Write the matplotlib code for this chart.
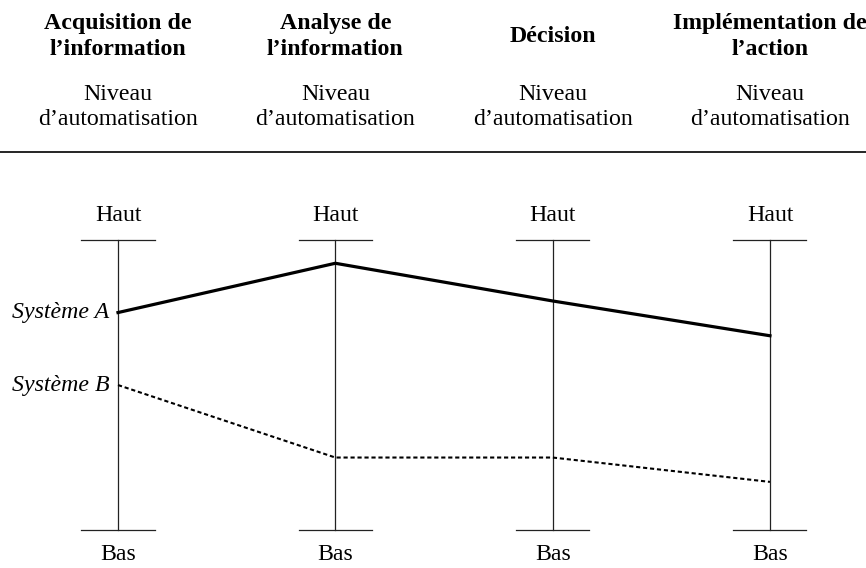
import matplotlib
matplotlib.use("Agg")
import matplotlib.pyplot as plt

# stages (columns) of the automation model
stages = ["Acquisition de\nl\u2019information", "Analyse de\nl\u2019information",
          "D\u00e9cision", "Impl\u00e9mentation de\nl\u2019action"]
sub_label = "Niveau\nd\u2019automatisation"
top_label = "Haut"
bottom_label = "Bas"

# automation level per stage, 0 = Bas, 1 = Haut
systeme_a = [0.75, 0.92, 0.79, 0.67]
systeme_b = [0.50, 0.25, 0.25, 0.166]
series_names = ["Syst\u00e8me A", "Syst\u00e8me B"]

plt.rcParams["font.family"] = ["Liberation Serif", "DejaVu Serif"]
fs = 17.2

fig = plt.figure(figsize=(8.66, 5.68), dpi=100)
ax = fig.add_axes([0, 0, 1, 1])
ax.set_xlim(-0.543, 3.442)
ax.set_ylim(-0.131, 1.828)
ax.axis("off")

xs = list(range(len(stages)))
cap = 0.168

for x, name in zip(xs, stages):
    # vertical scale with caps
    ax.plot([x, x], [0, 1], color="#222222", lw=0.9, zorder=1)
    ax.plot([x - cap, x + cap], [1, 1], color="#222222", lw=0.9)
    ax.plot([x - cap, x + cap], [0, 0], color="#222222", lw=0.9)
    ax.text(x, 1.086, top_label, ha="center", va="center", fontsize=fs)
    ax.text(x, -0.083, bottom_label, ha="center", va="center", fontsize=fs)
    # column headers
    ax.text(x, 1.703, name, ha="center", va="center", fontsize=fs,
            fontweight="bold", linespacing=1.3)
    ax.text(x, 1.459, sub_label, ha="center", va="center", fontsize=fs,
            linespacing=1.3)

# separator under the header
ax.plot([-0.543, 3.442], [1.303, 1.303], color="black", lw=1.2, clip_on=False)

ax.plot(xs, systeme_a, color="black", lw=2.3, solid_joinstyle="miter", zorder=3)
ax.plot(xs, systeme_b, color="black", lw=1.5, dashes=(2.0, 1.35), zorder=3)

ax.text(-0.04, systeme_a[0], series_names[0], ha="right", va="center",
        fontsize=fs, style="italic")
ax.text(-0.04, systeme_b[0], series_names[1], ha="right", va="center",
        fontsize=fs, style="italic")

fig.savefig("out.png", dpi=100)
